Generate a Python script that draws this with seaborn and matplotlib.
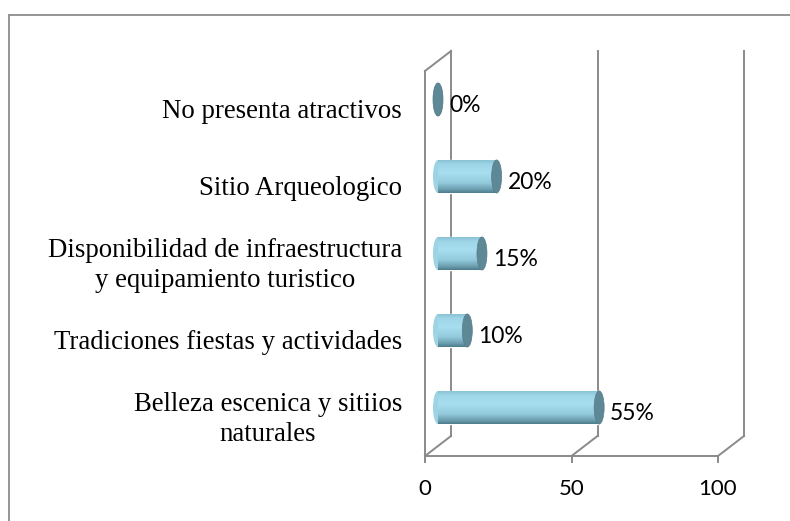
import numpy as np
import pandas as pd
import matplotlib
matplotlib.use("Agg")
import matplotlib.pyplot as plt
import seaborn as sns
from matplotlib.patches import Ellipse
from matplotlib.lines import Line2D
from matplotlib.colors import LinearSegmentedColormap

# ---- data ----
categories = [
    "No presenta atractivos",
    "Sitio Arqueologico",
    "Disponibilidad de infraestructura\ny equipamiento turistico",
    "Tradiciones fiestas y actividades",
    "Belleza escenica y sitiios\nnaturales",
]
values = [0, 20, 15, 10, 55]
value_labels = ["0%", "20%", "15%", "10%", "55%"]
x_ticks = [0, 50, 100]

# ---- style ----
sns.set_theme(style="white")
plt.rcParams["font.family"] = ["Liberation Serif", "DejaVu Serif"]

W, H = 790, 521
fig = plt.figure(figsize=(W / 100, H / 100), dpi=100)
fig.patch.set_facecolor("white")
ax = fig.add_axes([438 / W, 1 - 446 / H, 293 / W, 385 / H])

df = pd.DataFrame({"cat": categories, "val": values})
bar_w = 0.43
sns.barplot(data=df, x="val", y="cat", orient="h", width=bar_w,
            color="#9dd3e3", saturation=1, ax=ax, zorder=2)

xmin, xmax = 0, 100
ytop, ybot = -0.5, len(categories) - 0.5
ax.set_xlim(xmin, xmax)
ax.set_ylim(ybot, ytop)
for s in ax.spines.values():
    s.set_visible(False)
ax.set_xlabel("")
ax.set_ylabel("")
ax.set_xticks([])
ax.set_yticks([])
ax.patch.set_alpha(0)

# depth offsets (data units): 13 px horizontally, 10 px vertically
DX = 13 / 293 * (xmax - xmin)
DY = 10 / 77

grid_kw = dict(color="#8a8a8a", lw=1.4, solid_capstyle="projecting",
               clip_on=False, zorder=1)

def seg(p, q):
    ax.add_line(Line2D([p[0], q[0]], [p[1], q[1]], **grid_kw))

for xv in x_ticks:
    seg((xv + DX, ybot - DY), (xv + DX, ytop - DY))      # back wall
    seg((xv + DX, ybot - DY), (xv - DX, ybot + DY))      # floor diagonal
    seg((xv - DX, ybot + DY), (xv - DX, ybot + DY + 0.08))  # tick mark
seg((xmin - DX, ybot + DY), (xmax - DX, ybot + DY))      # front floor edge
seg((xmin - DX, ybot + DY), (xmin - DX, ytop + DY))      # left wall front
seg((xmin - DX, ytop + DY), (xmin + DX, ytop - DY))      # left wall top

# ---- cylinders ----
body_cmap = LinearSegmentedColormap.from_list(
    "body", [(0.0, "#86bfd1"), (0.15, "#9ed5e7"), (0.4, "#a7dff1"),
             (0.7, "#93cbdd"), (0.9, "#6c9eaf"), (1.0, "#4e7e8e")])
grad = np.linspace(0, 1, 64).reshape(-1, 1)
cap_w = 10 / 293 * (xmax - xmin)

for i, (patch, v) in enumerate(zip(ax.patches[:len(values)], values)):
    y0 = patch.get_y()
    h = patch.get_height()
    yc = y0 + h / 2
    patch.set_clip_on(False)
    # left rounded end
    le = Ellipse((xmin, yc), cap_w, h, facecolor="#9dd3e3", edgecolor="none",
                 zorder=2, clip_on=False)
    ax.add_patch(le)
    for clip in (patch, le):
        im = ax.imshow(grad, cmap=body_cmap, aspect="auto", origin="upper",
                       extent=(xmin - cap_w, max(v, xmin) + cap_w, y0 + h, y0),
                       zorder=3, interpolation="bilinear")
        im.set_clip_box(None)
        im.set_clip_path(clip)
    # right cap
    ax.add_patch(Ellipse((v, yc), cap_w, h, facecolor="#5f8896",
                         edgecolor="#557c89", lw=0.5, zorder=4, clip_on=False))
    # data label
    ax.annotate(value_labels[i], xy=(v, yc), xytext=(8, -4),
                textcoords="offset points", ha="left", va="center",
                fontsize=16.5, family=["Lato", "DejaVu Sans"], color="black",
                zorder=5, annotation_clip=False)

ax.set_xlim(xmin, xmax)
ax.set_ylim(ybot, ytop)

# ---- category labels (front plane) ----
for i, cat in enumerate(categories):
    ax.annotate(cat, xy=(xmin - DX, i + DY), xytext=(-16.5, -1.5),
                textcoords="offset points", ha="right", va="center",
                multialignment="center", fontsize=19.3, color="black",
                linespacing=1.22, annotation_clip=False)

# ---- x tick labels (front plane) ----
for xv in x_ticks:
    ax.annotate(str(xv), xy=(xv - DX, ybot + DY), xytext=(0, -24),
                textcoords="offset points", ha="center", va="center",
                fontsize=16, family=["Lato", "DejaVu Sans"], color="black",
                annotation_clip=False)

# ---- outer border (top + left visible) ----
bc = "#8c8c8c"
fig.add_artist(Line2D([9 / W, 1.0], [1 - 15 / H, 1 - 15 / H],
                      transform=fig.transFigure, color=bc, lw=1.3))
fig.add_artist(Line2D([9 / W, 9 / W], [1 - 15 / H, 0.0],
                      transform=fig.transFigure, color=bc, lw=1.3))

fig.savefig("out.png", dpi=100, facecolor="white")
